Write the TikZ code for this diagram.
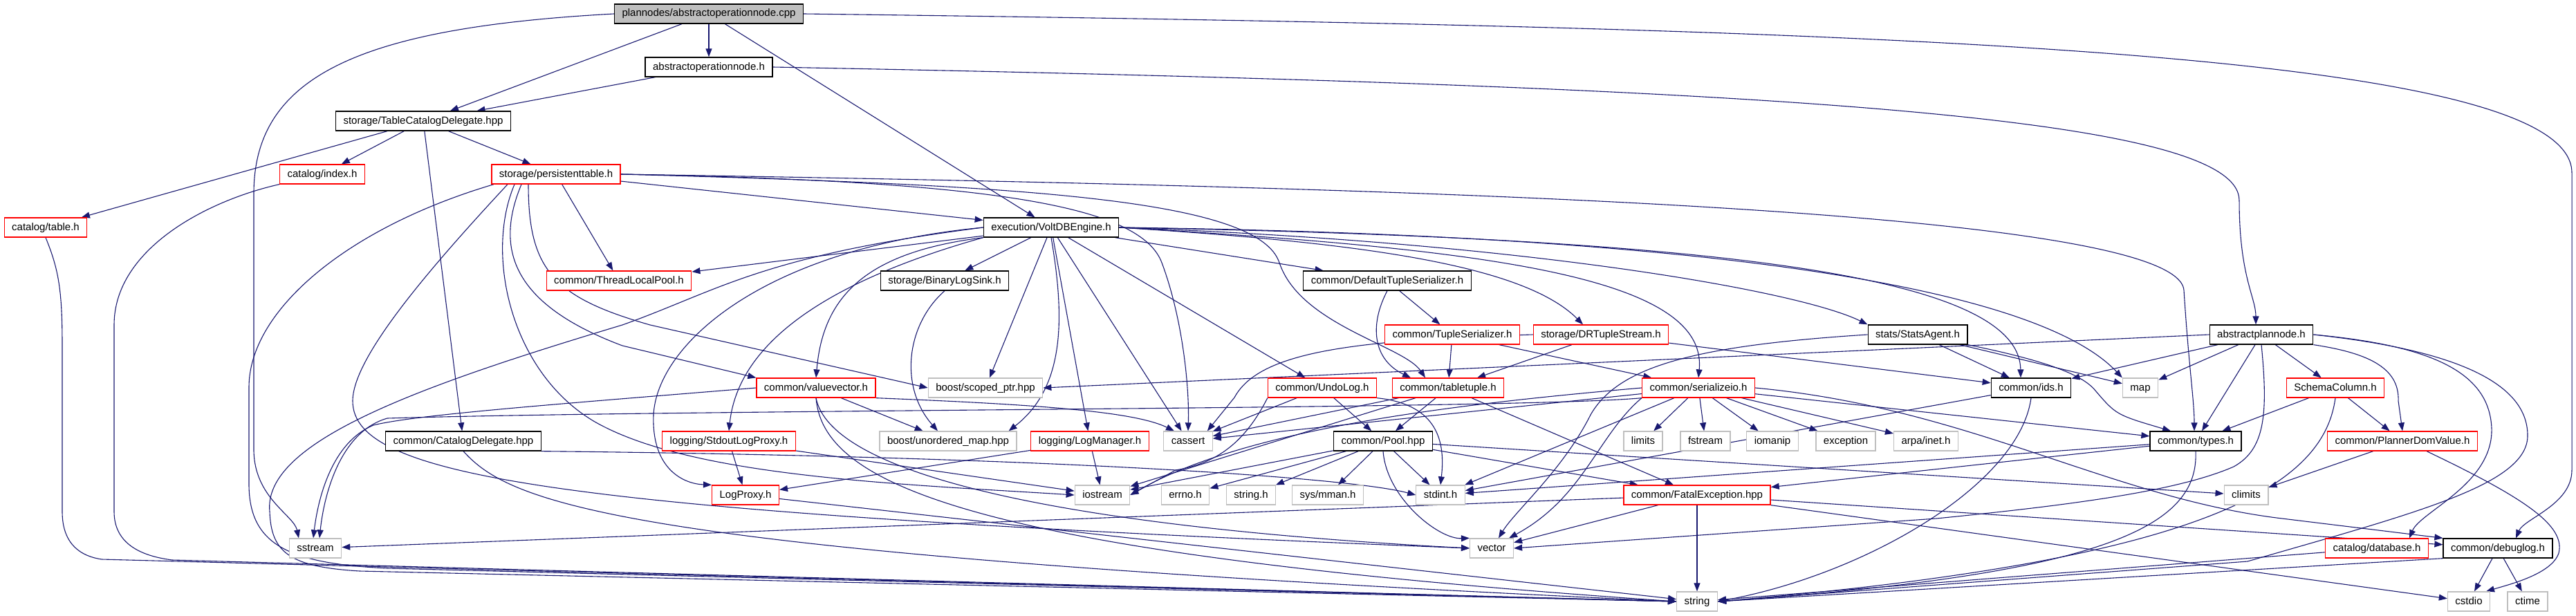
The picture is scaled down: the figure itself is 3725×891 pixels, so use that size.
\documentclass[tikz,border=0pt]{standalone}
\usepackage{fontspec}
\setmainfont{Liberation Sans}
\usetikzlibrary{arrows.meta}
\definecolor{dxedge}{RGB}{25,25,112}
\definecolor{dxred}{RGB}{255,0,0}
\definecolor{dxgray}{RGB}{191,191,191}
\pgfdeclarelayer{edges}
\pgfsetlayers{edges,main}
\tikzset{
  filebox/.style={draw=black, line width=1.3pt, fill=white, minimum height=28pt,
    inner xsep=11pt, inner ysep=0pt, text height=11pt, text depth=3pt,
    font=\fontsize{15pt}{18pt}\selectfont},
  redbox/.style={filebox, draw=dxred},
  sysbox/.style={filebox, draw=dxgray},
  rootbox/.style={filebox, fill=dxgray},
  incl/.style={-{Triangle[length=12pt,width=9pt]}, line width=1.1pt, draw=dxedge}
}

\begin{document}
\begin{tikzpicture}[x=1pt,y=-1pt]
      \useasboundingbox (0,0) rectangle (3725,891);
      \node[rootbox] (cpp) at (1025,20) {plannodes/abstractoperationnode.cpp};
      \node[filebox] (opnode) at (1025,97) {abstractoperationnode.h};
      \node[filebox] (tcd) at (612,175) {storage/TableCatalogDelegate.hpp};
      \node[redbox] (cindex) at (466,252) {catalog/index.h};
      \node[redbox] (ptable) at (804,252) {storage/persistenttable.h};
      \node[redbox] (ctable) at (66,329) {catalog/table.h};
      \node[filebox] (vengine) at (1520,329) {execution/VoltDBEngine.h};
      \node[redbox] (tlpool) at (895,406) {common/ThreadLocalPool.h};
      \node[filebox] (binlog) at (1366,406) {storage/BinaryLogSink.h};
      \node[filebox] (deftser) at (2006,406) {common/DefaultTupleSerializer.h};
      \node[redbox] (tupser) at (2100,484) {common/TupleSerializer.h};
      \node[redbox] (drts) at (2315,484) {storage/DRTupleStream.h};
      \node[filebox] (stats) at (2773,484) {stats/StatsAgent.h};
      \node[filebox] (absplan) at (3270,484) {abstractplannode.h};
      \node[redbox] (valvec) at (1180,561) {common/valuevector.h};
      \node[sysbox] (scoped) at (1425,561) {boost/scoped\_ptr.hpp};
      \node[redbox] (undolog) at (1912,561) {common/UndoLog.h};
      \node[redbox] (ttuple) at (2094,561) {common/tabletuple.h};
      \node[redbox] (serio) at (2456,561) {common/serializeio.h};
      \node[filebox] (ids) at (2937,561) {common/ids.h};
      \node[sysbox] (map) at (3095,561) {map};
      \node[redbox] (schemacol) at (3377,561) {SchemaColumn.h};
      \node[filebox] (catdel) at (670,638) {common/CatalogDelegate.hpp};
      \node[redbox] (stdoutlp) at (1054,638) {logging/StdoutLogProxy.h};
      \node[sysbox] (umap) at (1371,638) {boost/unordered\_map.hpp};
      \node[redbox] (logmgr) at (1576,638) {logging/LogManager.h};
      \node[sysbox] (cassert) at (1718,638) {cassert};
      \node[filebox] (pool) at (2000,638) {common/Pool.hpp};
      \node[sysbox] (limits) at (2376,638) {limits};
      \node[sysbox] (fstream) at (2466,638) {fstream};
      \node[sysbox] (iomanip) at (2563,638) {iomanip};
      \node[sysbox] (exception) at (2669,638) {exception};
      \node[sysbox] (arpa) at (2785,638) {arpa/inet.h};
      \node[filebox] (types) at (3175,638) {common/types.h};
      \node[redbox] (pdv) at (3474,638) {common/PlannerDomValue.h};
      \node[redbox] (logproxy) at (1078,716) {LogProxy.h};
      \node[sysbox] (iostream) at (1594,716) {iostream};
      \node[sysbox] (errno) at (1714,716) {errno.h};
      \node[sysbox] (stringh) at (1809,716) {string.h};
      \node[sysbox] (mman) at (1920,716) {sys/mman.h};
      \node[sysbox] (stdint) at (2083,716) {stdint.h};
      \node[redbox] (fatal) at (2454,716) {common/FatalException.hpp};
      \node[sysbox] (climits) at (3248,716) {climits};
      \node[sysbox] (sstream) at (456,793) {sstream};
      \node[sysbox] (vector) at (2157,793) {vector};
      \node[redbox] (database) at (3437,793) {catalog/database.h};
      \node[filebox] (debuglog) at (3612,793) {common/debuglog.h};
      \node[sysbox] (string) at (2454,870) {string};
      \node[sysbox] (cstdio) at (3570,870) {cstdio};
      \node[sysbox] (ctime) at (3655,870) {ctime};

      \begin{pgfonlayer}{edges}
      % source file
      \draw[incl] (cpp) -- (opnode);
      \draw[incl] (cpp) -- (tcd);
      \draw[incl] (cpp) -- (vengine);
      \draw[incl] (cpp.west) .. controls (520,40) and (367,110) .. (367,280) -- (367,650) .. controls (367,720) and (425,745) .. ([xshift=-24pt]sstream.north);
      \draw[incl] (cpp.east) .. controls (2700,40) and (3719,70) .. (3719,250) -- (3719,680) .. controls (3719,730) and (3650,750) .. ([xshift=26pt]debuglog.north);
      \draw[incl] (opnode) -- (tcd);
      \draw[incl] (opnode.east) .. controls (2600,125) and (3238,170) .. (3238,290) .. controls (3238,400) and (3262,430) .. ([xshift=-8pt]absplan.north);
      % TableCatalogDelegate
      \draw[incl] (tcd) -- (ctable);
      \draw[incl] (tcd) -- (cindex);
      \draw[incl] (tcd) -- (ptable);
      \draw[incl] (tcd) -- (catdel);
      \draw[incl] (ctable.south) .. controls (85,390) and (90,420) .. (90,500) -- (90,740) .. controls (90,790) and (120,805) .. (147,809) -- (string.west);
      \draw[incl] (cindex.south west) .. controls (300,290) and (165,360) .. (165,470) -- (165,740) .. controls (165,790) and (210,805) .. (249,810) -- (string.west);
      % persistenttable
      \draw[incl] (ptable) -- (vengine);
      \draw[incl] (ptable) -- (tlpool);
      \draw[incl] ([xshift=-40pt]ptable.south) .. controls (764,390) and (800,430) .. (940,470) -- (scoped.west);
      \draw[incl] ([xshift=-50pt]ptable.south) .. controls (715,360) and (740,440) .. (900,500) -- (valvec.north west);
      \draw[incl] ([xshift=-60pt]ptable.south) .. controls (700,370) and (740,540) .. (860,610) .. controls (1000,690) and (1300,700) .. (iostream.west);
      \draw[incl] ([xshift=-70pt]ptable.south) .. controls (610,400) and (510,520) .. (510,580) .. controls (510,690) and (800,740) .. (vector.west);
      \draw[incl] ([xshift=-90pt]ptable.south) .. controls (500,330) and (360,450) .. (360,560) -- (360,700) .. controls (360,790) and (420,815) .. (560,822) -- (string.west);
      \draw[incl] (ptable.east) .. controls (1450,262) and (1650,300) .. (1680,380) .. controls (1710,460) and (1720,560) .. (cassert.north);
      \draw[incl] (ptable.east) .. controls (1500,268) and (1820,290) .. (1850,380) .. controls (1880,470) and (2030,500) .. ([xshift=-33pt]ttuple.north);
      \draw[incl] (ptable.east) .. controls (2000,270) and (3150,300) .. (3158,420) .. controls (3165,530) and (3173,580) .. ([xshift=-2pt]types.north);
      % VoltDBEngine
      \draw[incl] (vengine) -- (tlpool);
      \draw[incl] (vengine) -- (binlog);
      \draw[incl] (vengine) -- (deftser);
      \draw[incl] (vengine.east) .. controls (1950,350) and (2200,380) .. ([xshift=-26pt]drts.north);
      \draw[incl] (vengine.east) .. controls (2200,350) and (2600,420) .. (stats.north west);
      \draw[incl] (vengine.east) .. controls (2500,345) and (2920,400) .. ([xshift=-15pt]ids.north);
      \draw[incl] (vengine.east) .. controls (2500,340) and (2950,420) .. (map.north west);
      \draw[incl] (vengine.east) .. controls (2150,360) and (2470,400) .. (serio.north);
      \draw[incl] (vengine) -- (undolog);
      \draw[incl] (vengine.south west) .. controls (1250,365) and (1190,430) .. (valvec.north);
      \draw[incl] (vengine) -- (scoped);
      \draw[incl] (vengine.south) .. controls (1540,460) and (1540,560) .. ([xshift=-12pt]umap.north east);
      \draw[incl] (vengine) -- (logmgr);
      \draw[incl] (vengine) -- (cassert);
      \draw[incl] (vengine.south west) .. controls (1150,420) and (1065,520) .. (stdoutlp.north);
      \draw[incl] (vengine.west) .. controls (1100,360) and (950,500) .. (945,600) .. controls (942,680) and (990,700) .. (logproxy.north west);
      \draw[incl] (vengine.west) .. controls (1100,370) and (1040,420) .. (900,470) .. controls (600,560) and (380,640) .. (390,740) .. controls (392,800) and (420,820) .. (520,826) -- (string.west);
      % second level
      \draw[incl] (binlog.south) .. controls (1310,470) and (1300,560) .. ([xshift=-15pt]umap.north);
      \draw[incl] (deftser) -- (tupser);
      \draw[incl] (deftser.south) .. controls (1980,470) and (1985,520) .. ([xshift=-54pt]ttuple.north);
      \draw[incl] (tupser) -- (ttuple);
      \draw[incl] (tupser) -- (serio);
      \draw[incl] (drts) -- (ttuple);
      \draw[incl] (drts) -- (ids);
      \draw[incl] (drts.west) .. controls (1950,492) and (1820,510) .. (1785,575) -- ([xshift=-8pt]cassert.north east);
      \draw[incl] (stats) -- (ids);
      \draw[incl] (stats) -- (map);
      \draw[incl] (stats.west) .. controls (2450,500) and (2340,530) .. (2300,600) .. controls (2260,680) and (2190,740) .. ([xshift=10pt]vector.north);
      \draw[incl] (stats.south east) .. controls (2950,520) and (3010,540) .. (3030,565) .. controls (3060,600) .. ([xshift=-36pt]types.north);
      \draw[incl] (absplan.west) -- (scoped.east);
      \draw[incl] (absplan) -- (ids);
      \draw[incl] (absplan) -- (map);
      \draw[incl] (absplan) -- (schemacol);
      \draw[incl] (absplan) -- (types);
      \draw[incl] (absplan.south east) .. controls (3420,510) and (3470,530) .. (3468,580) -- (pdv.north);
      \draw[incl] (absplan.east) .. controls (3520,500) and (3600,540) .. (3603,620) .. controls (3605,700) and (3500,740) .. ([xshift=47pt]database.north);
      \draw[incl] (absplan.east) .. controls (3540,505) and (3655,550) .. (3655,630) .. controls (3655,700) and (3500,740) .. (3250,812) -- (string.east);
      \draw[incl] (absplan.south) .. controls (3280,600) and (3275,650) .. (3230,675) .. controls (3150,710) and (3000,730) .. (2800,750) -- (vector.east);
      % third level
      \draw[incl] (valvec.west) .. controls (800,585) and (600,600) .. (540,615) .. controls (480,640) and (460,720) .. ([xshift=-3pt]sstream.north);
      \draw[incl] (valvec) -- (umap);
      \draw[incl] (valvec.south east) .. controls (1500,585) and (1640,595) .. ([xshift=-20pt]cassert.north);
      \draw[incl] (valvec.south) .. controls (1190,700) and (1400,800) .. (string.west);
      \draw[incl] (valvec.south) .. controls (1200,680) and (1500,760) .. (vector.west);
      \draw[incl] (undolog) -- (pool);
      \draw[incl] (undolog.south east) .. controls (2080,585) and (2090,640) .. (stdint.north);
      \draw[incl] (undolog) -- (cassert);
      \draw[incl] (undolog.south west) .. controls (1800,640) and (1760,670) .. (1700,680) -- (iostream.east);
      \draw[incl] (ttuple) -- (pool);
      \draw[incl] (ttuple) -- (fatal);
      \draw[incl] (ttuple) -- (cassert);
      \draw[incl] (ttuple) -- (iostream);
      \draw[incl] (serio) -- (limits);
      \draw[incl] (serio) -- (fstream);
      \draw[incl] (serio) -- (iomanip);
      \draw[incl] (serio) -- (exception);
      \draw[incl] (serio) -- (arpa);
      \draw[incl] (serio) -- (types);
      \draw[incl] (serio) -- (cassert);
      \draw[incl] (serio) -- (stdint);
      \draw[incl] (serio.south west) .. controls (2310,630) and (2290,720) .. ([xshift=25pt]vector.north);
      \draw[incl] (serio.east) .. controls (2850,590) and (3050,720) .. (3300,750) -- (debuglog.north west);
      \draw[incl] (serio.west) .. controls (2100,585) and (1800,620) .. (iostream.east);
      \draw[incl] (serio.south west) .. controls (2200,592) and (1000,592) .. (560,605) .. controls (490,625) and (468,720) .. ([xshift=6pt]sstream.north);
      \draw[incl] (ids) -- (stdint);
      \draw[incl] (ids.south) .. controls (2920,700) and (2700,830) .. (string.east);
      \draw[incl] (schemacol) -- (types);
      \draw[incl] (schemacol) -- (pdv);
      \draw[incl] (schemacol.south) .. controls (3360,700) and (3200,810) .. (string.east);
      % fourth level
      \draw[incl] (catdel.south east) .. controls (1500,660) and (1950,690) .. (stdint.west);
      \draw[incl] (catdel.south) .. controls (740,730) and (900,800) .. (string.west);
      \draw[incl] (stdoutlp) -- (logproxy);
      \draw[incl] (stdoutlp) -- (iostream);
      \draw[incl] (logmgr) -- (logproxy);
      \draw[incl] (logmgr) -- (iostream);
      \draw[incl] (pool) -- (errno);
      \draw[incl] (pool) -- (stringh);
      \draw[incl] (pool) -- (mman);
      \draw[incl] (pool) -- (stdint);
      \draw[incl] (pool) -- (fatal);
      \draw[incl] (pool) -- (climits);
      \draw[incl] (pool) -- (iostream);
      \draw[incl] (pool.south) .. controls (2005,720) and (2080,780) .. (vector.north west);
      \draw[incl] (types) -- (stdint);
      \draw[incl] (types) -- (fatal);
      \draw[incl] (types.south) .. controls (3180,760) and (3050,830) .. (string.east);
      \draw[incl] (pdv) -- (climits);
      \draw[incl] ([xshift=35pt]pdv.south) .. controls (3650,720) and (3710,760) .. (3700,800) .. controls (3690,830) and (3630,845) .. ([xshift=25pt]cstdio.north);
      % last level
      \draw[incl] (logproxy) -- (string);
      \draw[incl] (fatal) -- (sstream);
      \draw[incl] (fatal) -- (vector);
      \draw[incl] (fatal) -- (string);
      \draw[incl] (fatal) -- (debuglog);
      \draw[incl] (fatal) -- (cstdio);
      \draw[incl] (database) -- (string);
      \draw[incl] (debuglog.south west) -- (string.east);
      \draw[incl] (debuglog) -- (cstdio);
      \draw[incl] (debuglog) -- (ctime);
      \end{pgfonlayer}
    \end{tikzpicture}
\end{document}
